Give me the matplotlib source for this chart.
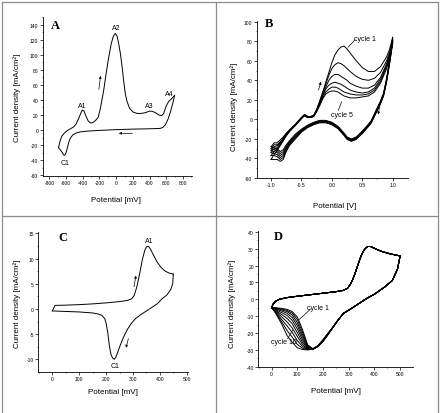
import matplotlib
matplotlib.use('Agg')
import matplotlib.pyplot as plt
from matplotlib.lines import Line2D
from matplotlib.ticker import MultipleLocator, AutoMinorLocator, FormatStrFormatter

plt.rcParams['font.family'] = ['Liberation Sans', 'DejaVu Sans']
plt.rcParams['axes.unicode_minus'] = False

# ---- panel A: potential (mV), current density (mA/cm2)
A_fwd_E = [-690, -670, -650, -620, -590, -550, -510, -480, -450, -425, -405, -385, -360, -335,
           -310, -290, -265, -240, -215, -190, -170, -150, -120, -90, -60, -35, -12, 10, 30, 50,
           70, 90, 110, 130, 160, 200, 250, 300, 350, 400, 430, 470, 510, 545, 570, 600, 630,
           660, 700]
A_fwd_j = [-23, -14, -8, -4, -1, 1.5, 4, 8, 15, 22, 26.5, 25, 18, 12,
           9.5, 9.5, 11, 13.5, 17, 28, 40, 52, 75, 96, 114, 124, 128, 125, 115, 102,
           85, 65, 48, 38, 29, 24, 22, 22, 23, 25, 25, 23, 20, 19, 22, 32, 38,
           41, 46]
A_rev_E = [700, 680, 650, 620, 590, 560, 530, 500, 450, 350, 200, 0, -200, -350, -430, -480,
           -520, -550, -570, -585, -600, -615, -630, -645, -665, -680, -690]
A_rev_j = [46, 36, 24, 14, 7, 3.5, 2.2, 2, 1.8, 1.5, 1.2, 0.5, -0.5, -1.5, -2.5, -4,
           -6.5, -11, -17, -24, -30, -33.5, -33, -30, -27, -25, -23]

# ---- panel B: potential (V), 6 cycles
B_fwd_E = [-1.0, -0.95, -0.9, -0.85, -0.8, -0.75, -0.7, -0.6, -0.5, -0.45, -0.4, -0.35, -0.3,
           -0.25, -0.2, -0.15, -0.1, -0.05, 0.0, 0.05, 0.1, 0.15, 0.2, 0.25, 0.3, 0.4, 0.5,
           0.6, 0.7, 0.8, 0.9, 0.95, 1.0]
B_fwd_j = [
    [-28, -24, -24, -21, -18, -14, -11, -5, 2, 5, 3, 3, 4, 10, 19, 28, 38, 48, 58, 66, 71, 74,
     75, 72, 68, 60, 53, 49, 49, 54, 64, 72, 84],
    [-30, -26, -26, -23, -19, -15, -11, -5, 2, 5, 3, 3, 4, 10, 18, 27, 36, 45, 52, 56, 58, 57,
     55, 52, 49, 44, 41, 40, 42, 48, 60, 69, 82],
    [-32, -28, -27, -24, -20, -15, -12, -6, 1, 4, 2, 2, 4, 9, 17, 25, 33, 40, 44, 46, 46, 44,
     42, 40, 37, 34, 32, 32, 35, 43, 57, 67, 81],
    [-34, -30, -29, -25, -21, -16, -12, -6, 1, 4, 2, 2, 3, 9, 16, 24, 31, 35, 37, 38, 37, 36,
     34, 32, 30, 28, 27, 28, 32, 41, 55, 66, 80],
    [-37, -33, -30, -26, -21, -16, -12, -6, 1, 4, 2, 2, 3, 8, 15, 22, 28, 31, 33, 33, 32, 30,
     28, 27, 26, 25, 25, 26, 30, 39, 54, 65, 79],
    [-41, -36, -32, -27, -22, -17, -13, -6, 1, 4, 2, 2, 3, 8, 14, 21, 26, 28, 29, 29, 28, 26,
     24, 23, 22, 22, 23, 24, 28, 37, 52, 64, 78],
]
B_rev_E = [1.0, 0.95, 0.9, 0.85, 0.8, 0.7, 0.65, 0.6, 0.5, 0.4, 0.32, 0.25, 0.2, 0.1, 0.0,
           -0.1, -0.2, -0.3, -0.4, -0.5, -0.6, -0.7, -0.75, -0.8, -0.85, -0.9, -0.95, -1.0]
B_rev_j = [
    [84, 62, 42, 27, 19, 6, -1, -5, -12, -18, -20, -18, -14, -7, -3,
     -1, -1, -3, -6, -10, -15, -22, -26, -31, -33, -30, -29, -28],
    [82, 61, 41, 26, 18, 5, -1.5, -5.5, -12.5, -18.5, -20.5, -18.5, -14.5, -7.5, -3.5,
     -1.5, -1.5, -3.5, -6.5, -11, -16, -23, -27.5, -33, -35, -32, -31, -30],
    [81, 60, 40, 25.5, 17.5, 4.5, -2, -6, -13, -19, -21, -19, -15, -8, -4,
     -2, -2, -4, -7, -11.5, -17, -24, -29, -35, -37, -34, -33, -32],
    [80, 59, 39.5, 25, 17, 4, -2.5, -6.5, -13.5, -19.5, -21.5, -19.5, -15.5, -8.5, -4.5,
     -2.5, -2.5, -4.5, -7.5, -12, -18, -25, -30, -37, -39, -36, -35, -34],
    [79, 58, 39, 24.5, 16.5, 3.5, -3, -7, -14, -20, -22, -20, -16, -9, -5,
     -3, -3, -5, -8, -12.5, -19, -26, -31.5, -39, -41, -38, -37, -37],
    [78, 57, 38.5, 24, 16, 3, -3.5, -7.5, -14.5, -20.5, -22.5, -20.5, -16.5, -9.5, -5.5,
     -3.5, -3.5, -5.5, -8.5, -13, -20, -27, -33, -41, -43, -41, -41, -41],
]

# ---- panel C
C_fwd_E = [0, 10, 50, 100, 150, 200, 250, 280, 295, 305, 315, 325, 335, 345, 352, 358, 365,
           375, 390, 405, 420, 435, 450]
C_fwd_j = [-0.4, 0.7, 0.75, 0.85, 1.0, 1.2, 1.45, 1.7, 2.0, 2.7, 4.5, 7.0, 9.8, 11.8, 12.4,
           12.4, 11.9, 10.8, 9.3, 8.2, 7.5, 7.1, 6.9]
C_rev_E = [450, 448, 440, 425, 410, 390, 370, 350, 330, 310, 295, 280, 265, 252, 242, 235,
           230, 224, 218, 212, 206, 200, 195, 185, 170, 150, 100, 50, 0]
C_rev_j = [6.9, 5.0, 3.8, 2.7, 2.1, 1.0, 0.3, -0.4, -1.1, -1.9, -2.8, -4.0, -5.6, -7.3, -8.8,
           -9.7, -10.0, -9.7, -9.0, -7.2, -4.6, -2.8, -1.9, -1.3, -1.0, -0.8, -0.6, -0.5, -0.4]

# ---- panel D: 10 cycles
D_fwd_E = [0, 5, 15, 30, 60, 100, 150, 200, 250, 280, 295, 305, 315, 325, 335, 345, 355, 365,
           375, 385, 395, 410, 430, 460, 500]
D_fwd_j = [-5, -3, -1.2, 0, 1, 1.8, 2.7, 3.6, 4.5, 5.3, 6.5, 8.5, 11.5, 15.5, 20, 24.5, 28,
           30.3, 31.3, 31.3, 30.6, 29.5, 28.3, 27, 25.7]
D_rev_E_head = [500, 490, 470, 440, 400, 370, 340, 310, 280, 260, 240]
D_rev_j_head = [25.7, 18, 11.2, 7.3, 3, 0.5, -2.5, -5.5, -8.3, -12, -16.3]
D_rev_E_tail = [220, 200, 180, 160, 140, 120, 100, 80, 60, 40, 20, 10, 0]
D_rev_j_tail = [
    [-20.0, -24.0, -27.5, -29.3, -27.0, -18.0, -10.5, -7.3, -6.0, -5.4, -5.1, -5.0, -5],
    [-20.1, -24.1, -27.6, -29.4, -27.5, -19.5, -12.0, -8.2, -6.6, -5.8, -5.3, -5.0, -5],
    [-20.2, -24.2, -27.7, -29.5, -28.0, -21.0, -13.8, -9.3, -7.3, -6.3, -5.6, -5.2, -5],
    [-20.3, -24.3, -27.8, -29.5, -28.5, -22.5, -15.6, -10.8, -8.3, -7.0, -6.0, -5.4, -5],
    [-20.4, -24.5, -27.8, -29.6, -29.0, -24.0, -17.6, -12.5, -9.6, -8.0, -6.5, -5.7, -5],
    [-20.5, -24.6, -27.9, -29.6, -29.3, -25.5, -19.8, -14.5, -11.3, -9.2, -7.1, -6.0, -5],
    [-20.6, -24.7, -27.9, -29.7, -29.6, -26.8, -22.0, -17.0, -13.4, -10.6, -7.7, -6.3, -5],
    [-20.7, -24.8, -28.0, -29.7, -29.8, -28.0, -24.5, -19.7, -15.8, -12.2, -8.3, -6.6, -5],
    [-20.8, -24.9, -28.0, -29.7, -29.9, -29.0, -26.8, -22.5, -18.5, -13.6, -8.9, -6.8, -5],
    [-20.8, -25.0, -28.0, -29.6, -30.0, -29.8, -28.8, -25.5, -21.5, -15.0, -9.5, -7.0, -5],
]

YLABEL = 'Current density [mA/cm²]'
TICKFONT = 3.6
LABELFONT = 5.8
ANNFONT = 5
LW = 0.7


def style(ax, xlim, ylim, xmaj, ymaj, xfmt, xlabel, xlab_pos, ylab_pos):
    ax.set_xlim(xlim)
    ax.set_ylim(ylim)
    for s in ['top', 'right']:
        ax.spines[s].set_visible(False)
    for s in ['left', 'bottom']:
        ax.spines[s].set_linewidth(0.6)
    ax.xaxis.set_major_locator(MultipleLocator(xmaj))
    ax.yaxis.set_major_locator(MultipleLocator(ymaj))
    ax.xaxis.set_minor_locator(AutoMinorLocator(2))
    ax.yaxis.set_minor_locator(AutoMinorLocator(2))
    ax.xaxis.set_major_formatter(FormatStrFormatter(xfmt))
    ax.tick_params(which='major', direction='out', length=2, width=0.5, labelsize=TICKFONT, pad=1.2)
    ax.tick_params(which='minor', direction='out', length=1, width=0.4)
    ax.set_xlabel(xlabel, fontsize=LABELFONT)
    ax.set_ylabel(YLABEL, fontsize=LABELFONT)
    ax.xaxis.set_label_coords(*xlab_pos)
    ax.yaxis.set_label_coords(*ylab_pos)


def arrow(ax, tail, head):
    ax.annotate('', xy=head, xytext=tail,
                arrowprops=dict(arrowstyle='-|>', lw=0.5, color='k', mutation_scale=3.5,
                                shrinkA=0, shrinkB=0))


def leader(ax, text, textpos, p0, p1):
    ax.text(textpos[0], textpos[1], text, fontsize=ANNFONT, ha='center', va='center')
    ax.plot([p0[0], p1[0]], [p0[1], p1[1]], color='k', lw=0.5)


fig = plt.figure(figsize=(4.42, 4.14), dpi=100)

# panel A
axA = fig.add_axes([0.0966, 0.5725, 0.3371, 0.3841])
axA.plot(A_fwd_E, A_fwd_j, color='k', lw=LW)
axA.plot(A_rev_E, A_rev_j, color='k', lw=LW)
style(axA, (-880, 905), (-61, 150), 200, 20, '%d', 'Potential [mV]', (0.494, -0.124), (-0.143, 0.5))
axA.text(-728, 139, 'A', fontsize=9, fontweight='bold', family='Liberation Serif', ha='center', va='center')
for lab, x, y in [('A1', -405, 32), ('A2', 4, 135.5), ('A3', 402, 32), ('A4', 640, 48), ('C1', -613, -43)]:
    axA.text(x, y, lab, fontsize=ANNFONT, ha='center', va='center')
arrow(axA, (-207, 54), (-187, 72))
arrow(axA, (195, -4.4), (32, -4.4))

# panel B
axB = fig.add_axes([0.5808, 0.5676, 0.3416, 0.380])
for jf, jr in zip(B_fwd_j, B_rev_j):
    axB.plot(B_fwd_E, jf, color='k', lw=LW)
    axB.plot(B_rev_E, jr, color='k', lw=LW)
style(axB, (-1.236, 1.247), (-60, 101), 0.5, 20, '%.1f', 'Potential [V]', (0.514, -0.151), (-0.122, 0.46))
axB.text(-1.03, 99, 'B', fontsize=9, fontweight='bold', family='Liberation Serif', ha='center', va='center')
leader(axB, 'cycle 1', (0.55, 82.5), (0.38, 81.5), (0.27, 74))
leader(axB, 'cycle 5', (0.16, 4.5), (0.107, 9.4), (0.16, 18))
arrow(axB, (-0.22, 30), (-0.18, 38.5))
arrow(axB, (0.79, 14), (0.76, 5))

# panel C
axC = fig.add_axes([0.0867, 0.0998, 0.3394, 0.3374])
axC.plot(C_fwd_E, C_fwd_j, color='k', lw=LW)
axC.plot(C_rev_E, C_rev_j, color='k', lw=LW)
style(axC, (-52, 506), (-12.45, 15.26), 100, 5, '%d', 'Potential [mV]', (0.496, -0.119), (-0.115, 0.494))
axC.text(38.5, 14.3, 'C', fontsize=9, fontweight='bold', family='Liberation Serif', ha='center', va='center')
axC.text(360, 13.5, 'A1', fontsize=ANNFONT, ha='center', va='center')
axC.text(233, -11.3, 'C1', fontsize=ANNFONT, ha='center', va='center')
arrow(axC, (304, 4.4), (311, 6.6))
arrow(axC, (283, -5.9), (274, -7.7))

# panel D
axD = fig.add_axes([0.5844, 0.1118, 0.3493, 0.3278])
for jt in D_rev_j_tail:
    axD.plot(D_fwd_E, D_fwd_j, color='k', lw=LW)
    axD.plot(D_rev_E_head + D_rev_E_tail, D_rev_j_head + jt, color='k', lw=LW)
style(axD, (-52, 549), (-40, 40.5), 100, 10, '%d', 'Potential [mV]', (0.503, -0.150), (-0.144, 0.47))
axD.text(26, 37.6, 'D', fontsize=9, fontweight='bold', family='Liberation Serif', ha='center', va='center')
leader(axD, 'cycle 1', (182, -4.6), (151, -5.9), (108, -11.9))
leader(axD, 'cycle 10', (49, -25.1), (62, -23.4), (82, -18.2))

# panel frame lines
H = 414.0
W = 442.0
gray = '#8c8c8c'
for (x0, y0, x1, y1) in [(1.5, 3, 437.5, 3), (1.5, 3, 1.5, 414), (437.5, 3, 437.5, 414),
                         (215.5, 3, 215.5, 414), (1.5, 216.5, 437.5, 216.5)]:
    fig.add_artist(Line2D([x0 / W, x1 / W], [1 - y0 / H, 1 - y1 / H], transform=fig.transFigure,
                          color=gray, lw=0.9))

fig.savefig('out.png', dpi=100)
